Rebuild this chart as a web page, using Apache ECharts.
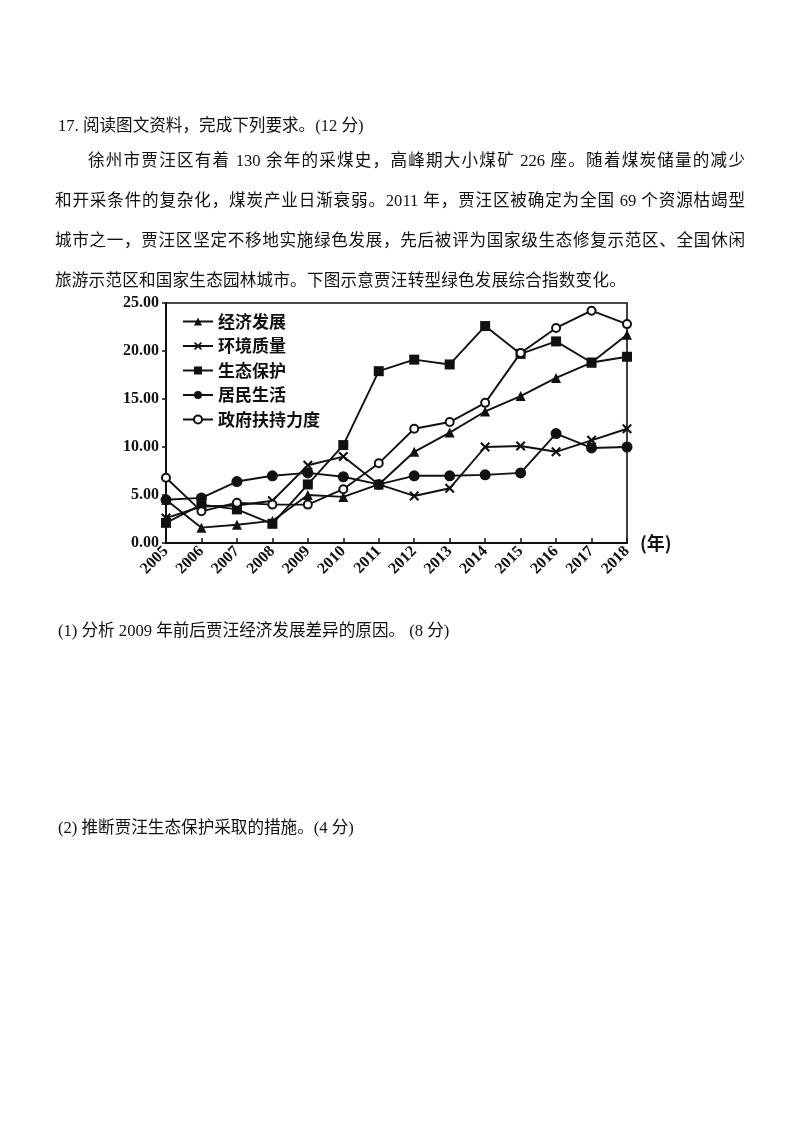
<!DOCTYPE html>
<html>
<head>
<meta charset="utf-8">
<script src="https://cdn.jsdelivr.net/npm/echarts@6/dist/echarts.min.js"></script>
<style>
  html, body { margin: 0; padding: 0; background: #fff; }
  body { width: 800px; height: 1132px; position: relative; overflow: hidden;
         font-family: "Liberation Serif", "Noto Sans CJK SC", serif; color: #111; }
  #chart { position: absolute; left: 0; top: 0; width: 800px; height: 1132px; }
  .ln { position: absolute; height: 26px; line-height: 26px; font-size: 16.6px; white-space: nowrap; }
  .just { text-align: justify; text-align-last: justify; }
</style>
</head>
<body>
<div id="chart"></div>
<div class="ln" style="left:58px; top:113px;">17. 阅读图文资料，完成下列要求。(12 分)</div>
<div class="ln just" style="left:88px; width:657px; top:148px;">徐州市贾汪区有着 130 余年的采煤史，高峰期大小煤矿 226 座。随着煤炭储量的减少</div>
<div class="ln just" style="left:55px; width:690px; top:188px;">和开采条件的复杂化，煤炭产业日渐衰弱。2011 年，贾汪区被确定为全国 69 个资源枯竭型</div>
<div class="ln just" style="left:55px; width:690px; top:228px;">城市之一，贾汪区坚定不移地实施绿色发展，先后被评为国家级生态修复示范区、全国休闲</div>
<div class="ln" style="left:55px; top:268px; letter-spacing:0.2px;">旅游示范区和国家生态园林城市。下图示意贾汪转型绿色发展综合指数变化。</div>
<div class="ln" style="left:58px; top:618px;">(1) 分析 2009 年前后贾汪经济发展差异的原因。 (8 分)</div>
<div class="ln" style="left:58px; top:815px;">(2) 推断贾汪生态保护采取的措施。(4 分)</div>
<script>
const years = ['2005','2006','2007','2008','2009','2010','2011','2012','2013','2014','2015','2016','2017','2018'];
const seriesNames = ['经济发展','环境质量','生态保护','居民生活','政府扶持力度'];
const economy    = [4.5, 1.6, 1.9, 2.3, 5.0, 4.8, 6.1, 9.5, 11.5, 13.7, 15.3, 17.2, 18.8, 21.7];
const environment= [2.6, 3.8, 3.9, 4.4, 8.1, 9.0, 6.1, 4.9, 5.7, 10.0, 10.1, 9.5, 10.7, 11.9];
const ecology    = [2.1, 4.0, 3.5, 2.0, 6.1, 10.2, 17.9, 19.1, 18.6, 22.6, 19.7, 21.0, 18.8, 19.4];
const livelihood = [4.5, 4.7, 6.4, 7.0, 7.3, 6.9, 6.1, 7.0, 7.0, 7.1, 7.3, 11.4, 9.9, 10.0];
const government = [6.8, 3.3, 4.2, 4.0, 4.0, 5.6, 8.3, 11.9, 12.6, 14.6, 19.8, 22.4, 24.2, 22.8];
const yMin = 0, yMax = 25, yInterval = 5;

const xPath = 'path://M0,1.5 L1.5,0 L5,3.5 L8.5,0 L10,1.5 L6.5,5 L10,8.5 L8.5,10 L5,6.5 L1.5,10 L0,8.5 L3.5,5 Z';
const dataSets = [economy, environment, ecology, livelihood, government];
const symbols = ['triangle', xPath, 'rect', 'circle', 'emptyCircle'];
const sizes = [10, 10, 10, 11, 8];

const chart = echarts.init(document.getElementById('chart'));
chart.setOption({
  animation: false,
  backgroundColor: 'transparent',
  grid: { left: 166, top: 303, width: 461, height: 240, show: true, borderColor: '#111', borderWidth: 1.6, backgroundColor: 'transparent' },
  legend: {
    orient: 'vertical', left: 177, top: 308, itemGap: 7.5, itemWidth: 30, itemHeight: 10,
    data: seriesNames,
    textStyle: { color: '#111', fontSize: 17, fontWeight: 'bold', fontFamily: 'Noto Sans CJK SC' }
  },
  xAxis: {
    type: 'category', data: years, boundaryGap: false,
    name: '(年)', nameLocation: 'end', nameGap: 13,
    nameTextStyle: { color: '#111', fontSize: 18, fontWeight: 'bold', fontFamily: 'Noto Sans CJK SC', verticalAlign: 'middle', padding: [8, 0, 0, 0] },
    axisLine: { lineStyle: { color: '#111', width: 2 } },
    axisTick: { inside: true, length: 5, lineStyle: { color: '#111', width: 1.5 }, alignWithLabel: true },
    axisLabel: { rotate: 45, margin: 6, color: '#111', fontSize: 16, fontWeight: 'bold', fontFamily: 'Liberation Serif' },
    splitLine: { show: false }
  },
  yAxis: {
    type: 'value', min: yMin, max: yMax, interval: yInterval,
    axisLine: { show: true, lineStyle: { color: '#111', width: 2 } },
    axisTick: { show: true, inside: false, length: 4, lineStyle: { color: '#111', width: 1.5 } },
    axisLabel: { margin: 7, color: '#111', fontSize: 16, fontWeight: 'bold', fontFamily: 'Liberation Serif',
                 formatter: v => v.toFixed(2) },
    splitLine: { show: false }
  },
  series: seriesNames.map((n, i) => ({
    name: n, type: 'line', data: dataSets[i],
    symbol: symbols[i], symbolSize: sizes[i], showSymbol: true,
    lineStyle: { color: '#111', width: 1.9 },
    itemStyle: { color: '#111', borderColor: '#111', borderWidth: i === 4 ? 1.6 : 0 },
    z: 2 + i
  }))
});
</script>
</body>
</html>
